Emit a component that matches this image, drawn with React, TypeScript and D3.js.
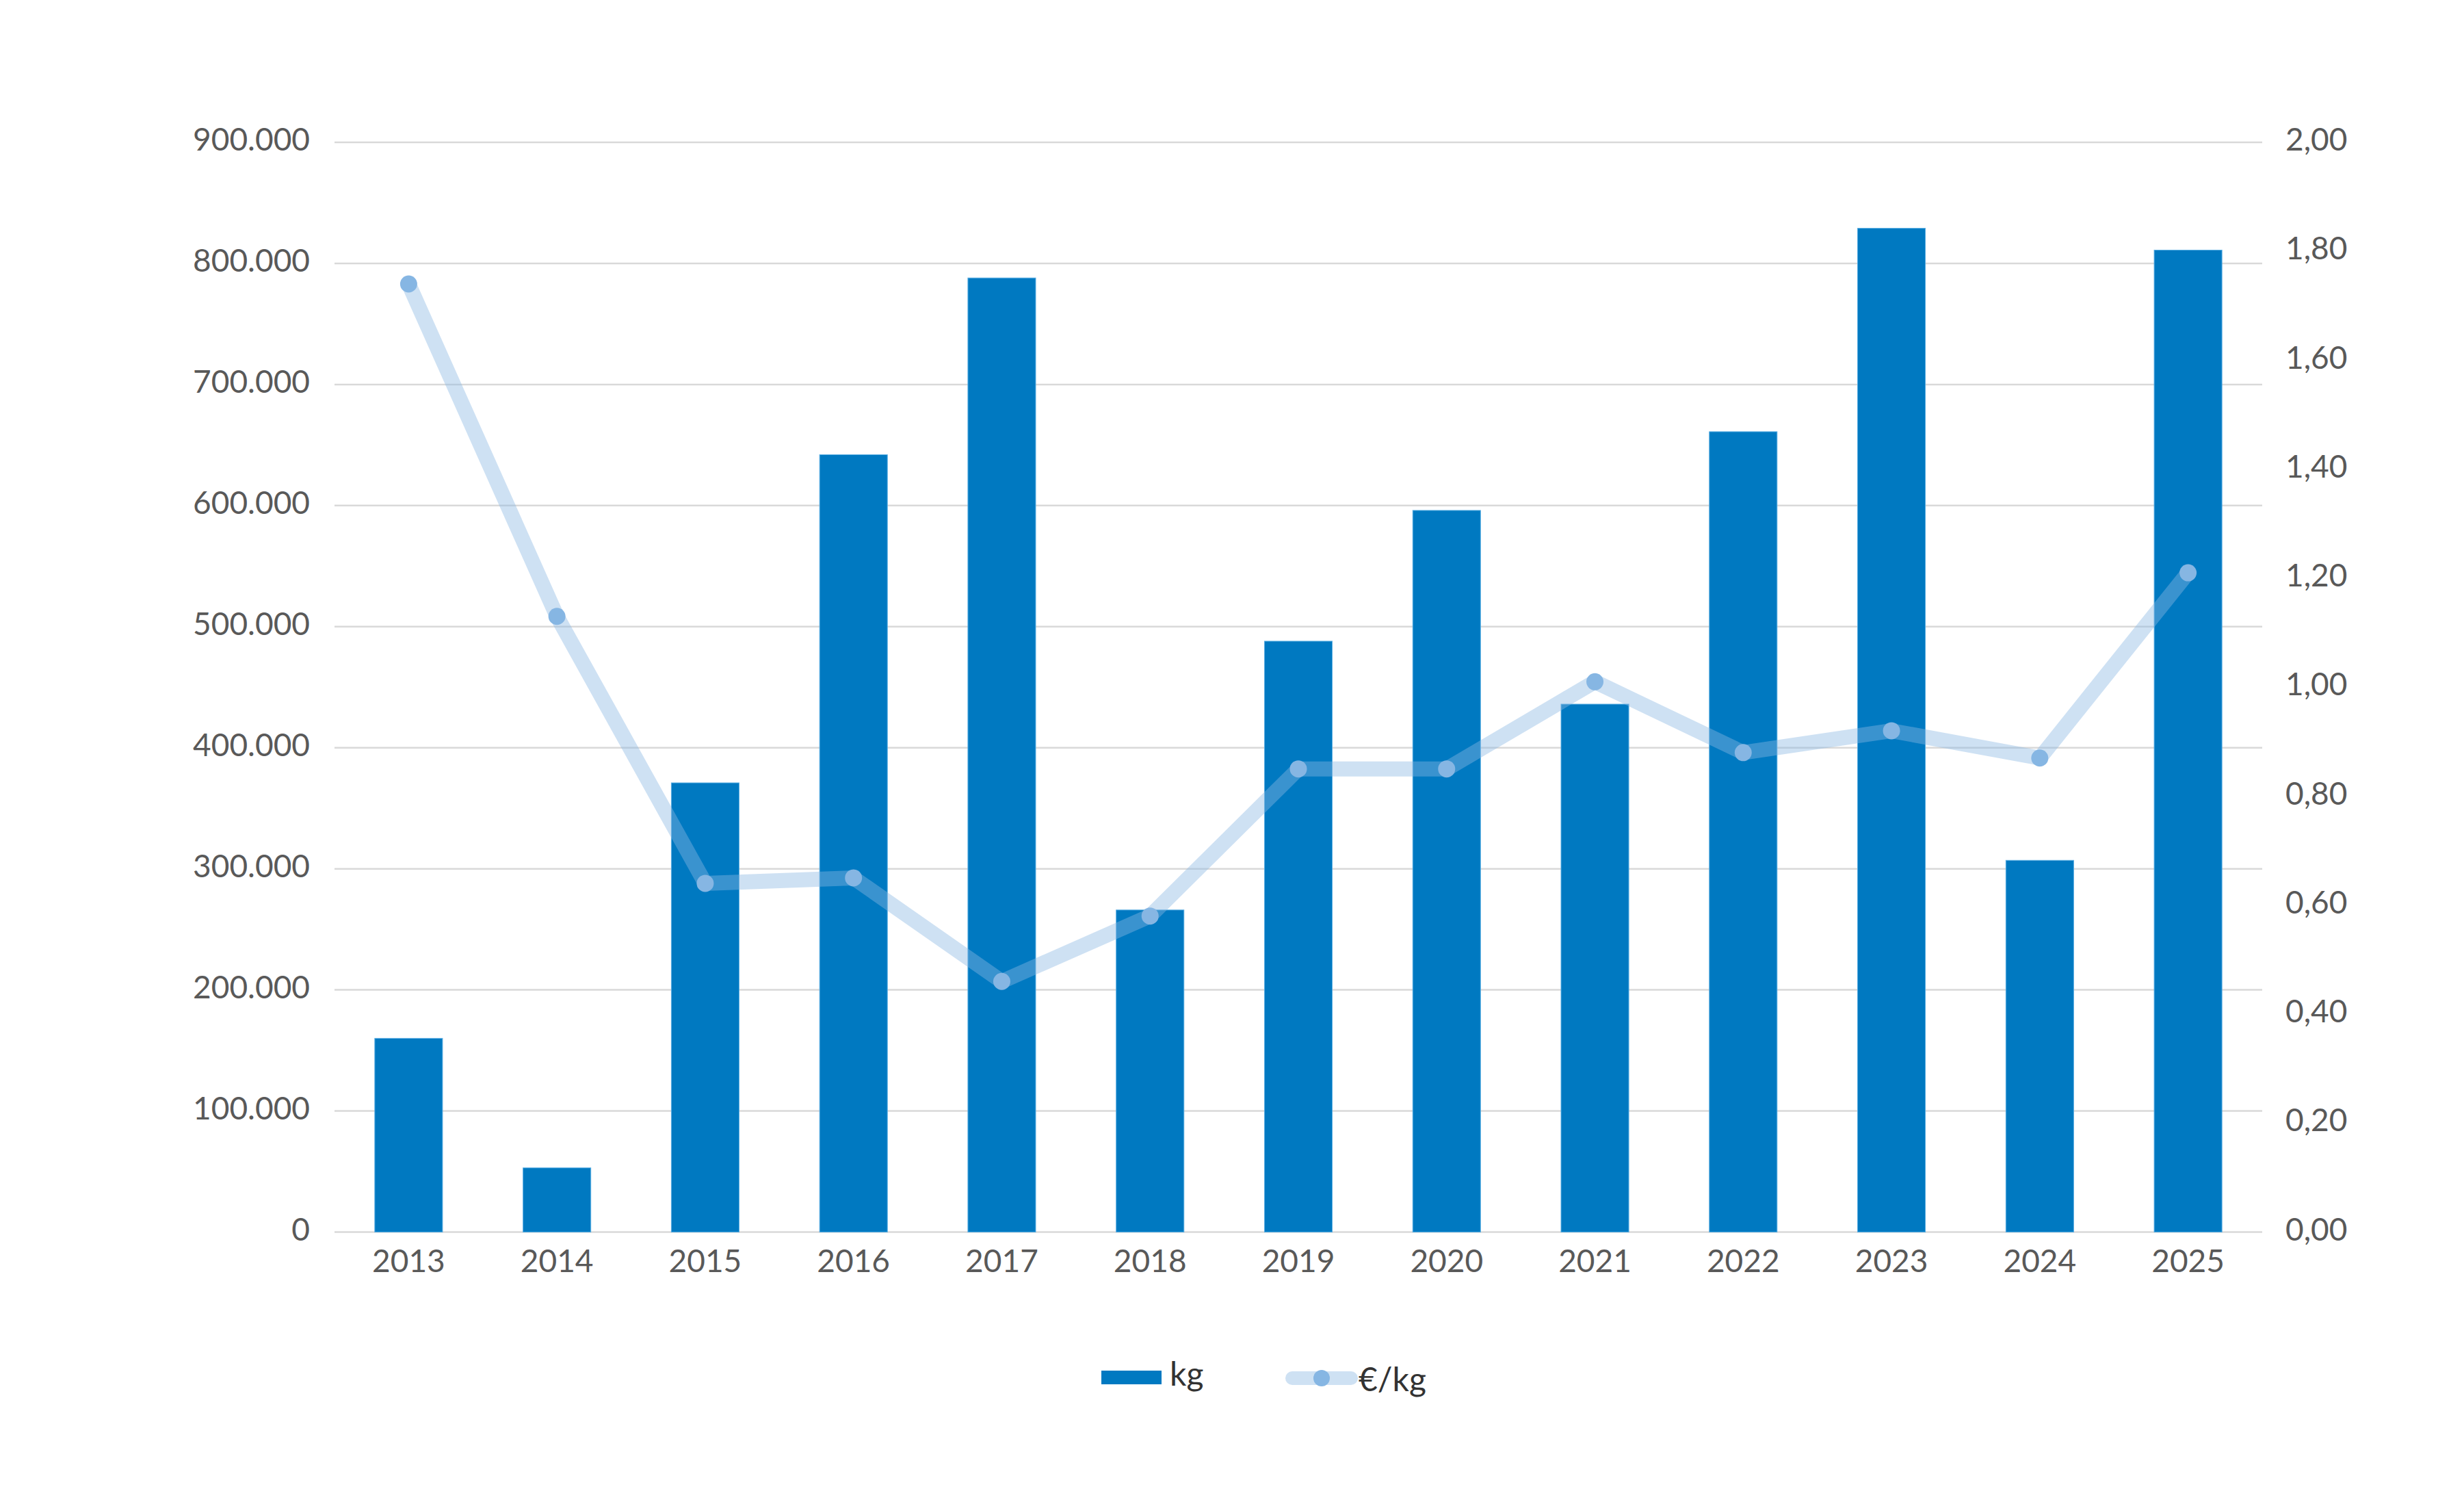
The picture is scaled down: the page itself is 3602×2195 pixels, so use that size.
import React from "react";
import * as d3 from "d3";

const years = ["2013","2014","2015","2016","2017","2018","2019","2020","2021","2022","2023","2024","2025"];
const kgValues = [160000, 53000, 371000, 642000, 788000, 266000, 488000, 596000, 436000, 661000, 829000, 307000, 811000];
const priceValues = [1.74, 1.13, 0.64, 0.65, 0.46, 0.58, 0.85, 0.85, 1.01, 0.88, 0.92, 0.87, 1.21];
const leftTicks = [0, 100000, 200000, 300000, 400000, 500000, 600000, 700000, 800000, 900000];
const rightTicks = [0, 0.2, 0.4, 0.6, 0.8, 1.0, 1.2, 1.4, 1.6, 1.8, 2.0];
const legendLabels = ["kg", "€/kg"];

const W = 3602;
const H = 2195;
const FONT = "Lato, 'Open Sans', sans-serif";

const locale = d3.formatLocale({ decimal: ",", thousands: ".", grouping: [3], currency: ["€", ""] });
const fmtLeft = locale.format(",.0f");
const fmtRight = locale.format(".2f");

export default function App() {
  const plotLeft = 489;
  const plotRight = 3307;
  const plotTop = 208;
  const plotBottom = 1800.5;

  const x = d3.scaleBand<string>().domain(years).range([plotLeft, plotRight]).paddingInner(0.543).paddingOuter(0.2715);
  const yL = d3.scaleLinear().domain([0, 900000]).range([plotBottom, plotTop]);
  const yR = d3.scaleLinear().domain([0, 2]).range([plotBottom, plotTop]);

  const lineGen = d3.line<number>()
    .x((_, i) => (x(years[i]) as number) + x.bandwidth() / 2)
    .y((d) => yR(d));

  const barColor = "#0079C1";
  const lineColor = "#8BB7E2";
  const dotColor = "#86B6E3";
  const textColor = "#595959";

  return (
    <svg width={W} height={H} style={{ position: "absolute", left: 0, top: 0, background: "#fff" }} xmlns="http://www.w3.org/2000/svg">
      <rect x={0} y={0} width={W} height={H} fill="#fff" />
      {/* gridlines */}
      {leftTicks.map((t) => (
        <line key={"g" + t} x1={plotLeft} x2={plotRight} y1={yL(t)} y2={yL(t)} stroke="#D9D9D9" strokeWidth={2.5} />
      ))}
      {/* left labels */}
      {leftTicks.map((t) => (
        <text key={"l" + t} x={453} y={yL(t) + 12} textAnchor="end" fontFamily={FONT} fontSize={46} fill={textColor}>
          {fmtLeft(t)}
        </text>
      ))}
      {/* right labels */}
      {rightTicks.map((t) => (
        <text key={"r" + t} x={3341} y={yR(t) + 12} textAnchor="start" fontFamily={FONT} fontSize={46} fill={textColor}>
          {fmtRight(t)}
        </text>
      ))}
      {/* x labels */}
      {years.map((yr) => (
        <text key={"x" + yr} x={(x(yr) as number) + x.bandwidth() / 2} y={1859} textAnchor="middle" fontFamily={FONT} fontSize={46} fill={textColor}>
          {yr}
        </text>
      ))}
      {/* bars */}
      {kgValues.map((v, i) => (
        <rect key={"b" + i} x={x(years[i])} y={yL(v)} width={x.bandwidth()} height={plotBottom - yL(v)} fill={barColor} stroke="#5AAEE3" strokeWidth={1} />
      ))}
      {/* line */}
      <path d={lineGen(priceValues) || ""} fill="none" stroke={lineColor} strokeOpacity={0.42} strokeWidth={22} strokeLinejoin="round" strokeLinecap="round" />
      {priceValues.map((v, i) => (
        <circle key={"d" + i} cx={(x(years[i]) as number) + x.bandwidth() / 2} cy={yR(v)} r={12.5} fill={dotColor} />
      ))}
      {/* legend */}
      <rect x={1610} y={2003} width={88} height={20} fill={barColor} />
      <text x={1710} y={2025} fontFamily={FONT} fontSize={48} fill="#333333">{legendLabels[0]}</text>
      <line x1={1889} x2={1975} y1={2014} y2={2014} stroke={lineColor} strokeOpacity={0.42} strokeWidth={20} strokeLinecap="round" />
      <circle cx={1932} cy={2014} r={12} fill={dotColor} />
      <text x={1986} y={2033} fontFamily={FONT} fontSize={48} fill="#333333">{legendLabels[1]}</text>
    </svg>
  );
}
